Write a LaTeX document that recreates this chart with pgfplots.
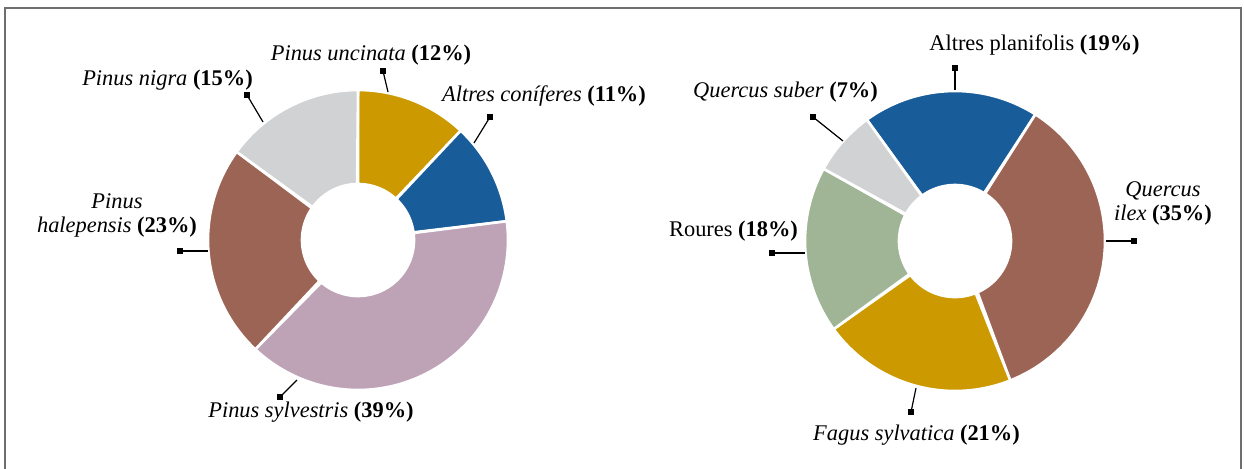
\documentclass[border=0pt]{standalone}
\usepackage{pgfplots}
\pgfplotsset{compat=1.18}
\usepackage{fontspec}
\setmainfont{Liberation Serif}
\definecolor{cgold}{RGB}{204,153,0}
\definecolor{cblue}{RGB}{24,92,154}
\definecolor{cmauve}{RGB}{190,163,183}
\definecolor{cbrown}{RGB}{156,100,85}
\definecolor{cgray}{RGB}{209,210,212}
\definecolor{cgreen}{RGB}{160,181,150}
\definecolor{cframe}{RGB}{110,110,110}
\newcommand\Ro{150}
\newcommand\Ri{56}
\newcommand\startdonut[1]{\xdef\curang{#1}}
% #1 cx, #2 cy, #3 percentage, #4 colour
\newcommand\slice[4]{%
  \pgfmathsetmacro\angA{\curang}%
  \pgfmathsetmacro\angB{\curang-3.6*#3}%
  \xdef\curang{\angB}%
  \edef\doslice{\noexpand\addplot[fill=#4, draw=white, line width=1.3pt, line join=round, domain=0:2, samples=121]
    ({#1+(\Ri+(\Ro-\Ri)*(x<=1))*cos(\angA+(\angB-\angA)*min(x,2-x))},
     {#2-(\Ri+(\Ro-\Ri)*(x<=1))*sin(\angA+(\angB-\angA)*min(x,2-x))}) -- cycle;}%
  \doslice}
\newcommand\leader[4]{%
  \addplot[black, line width=0.6pt, mark=square*, mark size=1.25pt, mark indices={1}] coordinates {(#1,#2) (#3,#4)};}
\begin{document}
\begin{tikzpicture}
\begin{axis}[hide axis, scale only axis, width=622pt, height=234pt,
  xmin=0, xmax=1244, ymin=0, ymax=468, y dir=reverse, clip=false]
% frame
\draw[cframe, line width=0.75pt] (axis cs:5,470) -- (axis cs:5,8) -- (axis cs:1241,8) -- (axis cs:1241,470);
% left donut: coniferous
\startdonut{90}
\slice{358}{240}{12}{cgold}
\slice{358}{240}{11}{cblue}
\slice{358}{240}{39}{cmauve}
\slice{358}{240}{23}{cbrown}
\slice{358}{240}{15}{cgray}
% right donut: broadleaf
\startdonut{126}
\slice{955}{241}{19}{cblue}
\slice{955}{241}{35}{cbrown}
\slice{955}{241}{21}{cgold}
\slice{955}{241}{18}{cgreen}
\slice{955}{241}{7}{cgray}
% leaders
\leader{383}{71}{388}{92}
\leader{247}{95}{263}{122}
\leader{490}{117}{474}{143}
\leader{180}{251}{208}{251}
\leader{280}{397}{297}{380}
\leader{955}{68}{955}{90}
\leader{813}{117}{843}{141}
\leader{1134}{241}{1106}{241}
\leader{772}{253}{805}{253}
\leader{911}{412}{916}{388}
% labels
\begin{scope}[every node/.style={font=\fontsize{11.2}{12}\selectfont, inner sep=0pt}]
\node at (axis cs:371,55) {\textit{Pinus uncinata} \textbf{(12\%)}};
\node at (axis cs:167.5,80) {\textit{Pinus nigra} \textbf{(15\%)}};
\node at (axis cs:544,96) {\textit{Altres coníferes} \textbf{(11\%)}};
\node[align=center] at (axis cs:117,215) {\textit{Pinus}\\\textit{halepensis} \textbf{(23\%)}};
\node at (axis cs:311,412) {\textit{Pinus sylvestris} \textbf{(39\%)}};
\node at (axis cs:1034.5,45) {Altres planifolis \textbf{(19\%)}};
\node at (axis cs:785.5,92) {\textit{Quercus suber} \textbf{(7\%)}};
\node[align=center] at (axis cs:1163,203) {\textit{Quercus}\\\textit{ilex} \textbf{(35\%)}};
\node at (axis cs:733.5,231) {Roures \textbf{(18\%)}};
\node at (axis cs:916.5,435) {\textit{Fagus sylvatica} \textbf{(21\%)}};
\end{scope}
\end{axis}
\pgfresetboundingbox
\path (current axis.south west) rectangle (current axis.north east);
\end{tikzpicture}
\end{document}
